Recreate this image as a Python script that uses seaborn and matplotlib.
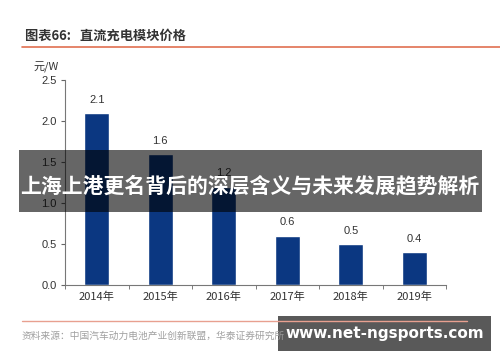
import matplotlib
matplotlib.use("Agg")
import matplotlib.pyplot as plt
import seaborn as sns
import numpy as np
import pandas as pd
from matplotlib.patches import Rectangle
from matplotlib.lines import Line2D

# 数据
years = ["2014年", "2015年", "2016年", "2017年", "2018年", "2019年"]
prices = [2.1, 1.6, 1.2, 0.6, 0.5, 0.4]
y_ticks = [0.0, 0.5, 1.0, 1.5, 2.0, 2.5]

title_text = "图表66:   直流充电模块价格"
unit_text = "元/W"
source_text = "资料来源：中国汽车动力电池产业创新联盟，华泰证券研究所"
banner_text = "上海上港更名背后的深层含义与未来发展趋势解析"
watermark_text = "www.net-ngsports.com"

sns.set_style("ticks")
plt.rcParams['font.family'] = ['Noto Sans CJK SC', 'DejaVu Sans']

df = pd.DataFrame({"year": years, "price": prices})

fig = plt.figure(figsize=(5, 3.62), dpi=100)
ax = fig.add_axes([0.13, 0.2127, 0.762, 0.566])

sns.barplot(data=df, x="year", y="price", color="#0b3781", saturation=1,
            width=0.4, ax=ax)
ax.bar_label(ax.containers[0], fmt="%.1f", padding=6, fontsize=8, color="#333333",
             family=['Liberation Sans', 'DejaVu Sans'])

ax.set_xlim(-0.5, len(years) - 0.5)
ax.set_ylim(0, 2.5)
ax.set_yticks(y_ticks)
ax.set_yticklabels([f"{v:.1f}" for v in y_ticks], fontsize=8, color="#333333",
                   family=['Liberation Sans', 'DejaVu Sans'])
ax.set_xlabel("")
ax.set_ylabel("")
ax.tick_params(axis="x", which="major", length=0, labelsize=8, colors="#333333", pad=5)
ax.set_xticks(np.arange(-0.5, len(years)), minor=True)
ax.tick_params(axis="x", which="minor", length=3, color="#666666")
ax.tick_params(axis="y", length=3, color="#666666", pad=3)
sns.despine(ax=ax)
for s in ["left", "bottom"]:
    ax.spines[s].set_color("#777777")
    ax.spines[s].set_linewidth(0.8)

ax.text(-0.05, 1.06, unit_text, transform=ax.transAxes, ha="center", va="center",
        fontsize=8, color="#333333")

# 标题与分隔线
fig.text(0.05, 0.9, title_text, fontsize=9.5, fontweight="bold", color="#333333",
         ha="left", va="center")
fig.add_artist(Line2D([0.044, 1.0], [0.87, 0.87], transform=fig.transFigure,
                      color="#e07050", lw=1.2))
fig.add_artist(Line2D([0.044, 0.934], [0.113, 0.113], transform=fig.transFigure,
                      color="#e8a090", lw=1.0))
fig.text(0.044, 0.072, source_text, fontsize=7, color="#a0a0a0", ha="left", va="center")

# 横幅
fig.add_artist(Rectangle((0.038, 0.414), 0.926, 0.171, transform=fig.transFigure,
                         facecolor="black", alpha=0.6, lw=0))
fig.text(0.5, 0.487, banner_text, fontsize=15, fontweight="bold", color="white",
         ha="center", va="center")

# 水印
fig.add_artist(Rectangle((0.556, 0.03), 0.426, 0.097, transform=fig.transFigure,
                         facecolor="black", alpha=0.65, lw=0))
fig.text(0.769, 0.078, watermark_text, fontsize=11, fontweight="bold", color="white",
         ha="center", va="center", family=['DejaVu Sans'])

fig.savefig("out.png", dpi=100)
